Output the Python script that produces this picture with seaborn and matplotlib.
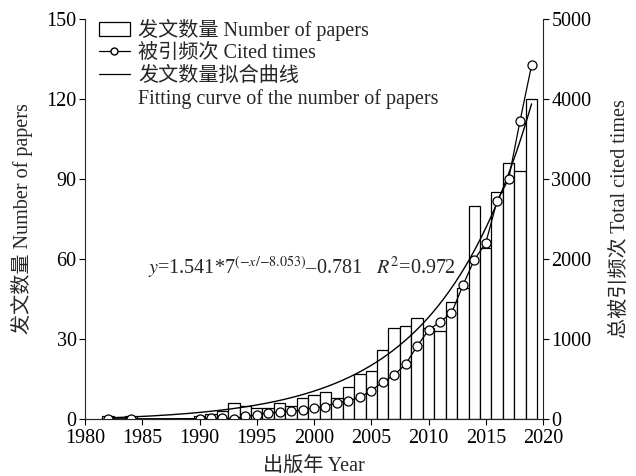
import numpy as np
import pandas as pd
import matplotlib
matplotlib.use("Agg")
import matplotlib.pyplot as plt
from matplotlib.patches import Patch
from matplotlib.lines import Line2D
import seaborn as sns

# Publication years
years = [1982, 1984, 1990, 1991, 1992, 1993, 1994, 1995, 1996, 1997,
         1998, 1999, 2000, 2001, 2002, 2003, 2004, 2005, 2006, 2007,
         2008, 2009, 2010, 2011, 2012, 2013, 2014, 2015, 2016, 2017,
         2018, 2019]
# Number of papers per year
papers = [1, 1, 1, 2, 3, 6, 5, 4, 4, 6,
          5, 8, 9, 10, 8, 12, 17, 18, 26, 34,
          35, 38, 34, 33, 44, 49, 80, 64, 85, 96,
          93, 120]
# Total cited times per year
cited = [3, 3, 5, 8, 10, 5, 35, 50, 80, 85,
         95, 110, 140, 155, 205, 225, 270, 355, 460, 550,
         685, 910, 1110, 1215, 1320, 1670, 1990, 2200, 2730, 3000,
         3730, 4420]

# Exponential fit of paper counts: y = a*exp(x/b) + c, x counted from 1984
fit_a, fit_b, fit_c = 1.541, 8.053, -0.781
fit_origin = 1984
fit_label = r'$y$=1.541*7$^{(-x/{-}8.053)}$–0.781   $R^{2}$=0.972'

sns.set_style("ticks")
plt.rcParams['font.family'] = ['Liberation Serif', 'Noto Sans CJK SC']
plt.rcParams['mathtext.fontset'] = 'stix'
plt.rcParams['axes.linewidth'] = 0.8

FS = 14.5

df = pd.DataFrame({"year": years, "papers": papers, "cited": cited})
fit_x = np.linspace(1982, 2019, 300)
fit_df = pd.DataFrame({"year": fit_x,
                       "fit": fit_a * np.exp((fit_x - fit_origin) / fit_b) + fit_c})

fig, ax = plt.subplots(figsize=(6.36, 4.76), dpi=100)
fig.subplots_adjust(left=85/636, right=543/636, top=1-19/476, bottom=1-419/476)

sns.barplot(data=df, x="year", y="papers", native_scale=True, width=1.0,
            color="white", saturation=1, edgecolor="black", linewidth=0.9,
            errorbar=None, ax=ax)
sns.lineplot(data=fit_df, x="year", y="fit", color="black", linewidth=1.0, ax=ax)

ax2 = ax.twinx()
sns.lineplot(data=df, x="year", y="cited", color="black", linewidth=0.9,
             marker="o", markersize=6.5, markerfacecolor="white",
             markeredgecolor="black", markeredgewidth=0.9, ax=ax2)

ax.set_xlim(1980, 2020)
ax.set_ylim(0, 150)
ax2.set_ylim(0, 5000)
ax.set_xticks(range(1980, 2021, 5))
ax.set_yticks(range(0, 151, 30))
ax2.set_yticks(range(0, 5001, 1000))

for a in (ax, ax2):
    a.spines['top'].set_visible(False)
    a.tick_params(direction='out', length=4, width=0.8, pad=2,
                  labelsize=FS, colors='black')
ax.tick_params(axis='x', pad=3.5)
ax2.spines['left'].set_visible(False)
ax.spines['right'].set_visible(False)

ax.set_xlabel("出版年 Year", fontsize=FS, labelpad=7)
ax.set_ylabel("发文数量 Number of papers", fontsize=FS, labelpad=10)
ax2.set_ylabel("总被引频次 Total cited times", fontsize=FS, labelpad=14)

ax.text(1985.5, 56.6, fit_label, fontsize=FS, ha='left', va='center')

handles = [Patch(facecolor='white', edgecolor='black', linewidth=0.9),
           Line2D([], [], color='black', lw=0.9, marker='o', markersize=5,
                  markerfacecolor='white', markeredgecolor='black'),
           Line2D([], [], color='black', lw=0.9),
           Line2D([], [], color='none')]
labels = ['发文数量 Number of papers', '被引频次 Cited times',
          '发文数量拟合曲线', 'Fitting curve of the number of papers']
ax2.legend(handles, labels, loc='upper left', bbox_to_anchor=(0.03, 1.0),
           frameon=False, fontsize=FS, borderpad=0, borderaxespad=0,
           handlelength=1.55, handletextpad=0.4, labelspacing=0.16)

fig.savefig("out.png", dpi=100)
